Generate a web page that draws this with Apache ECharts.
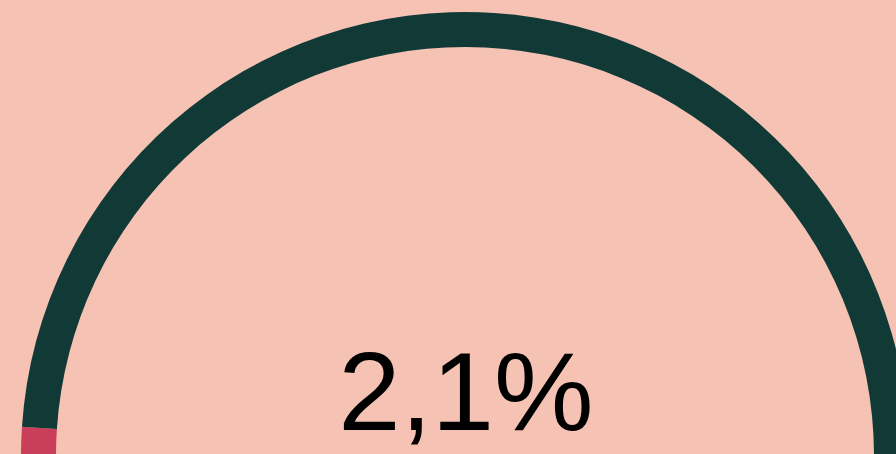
<!DOCTYPE html>
<html>
<head>
<meta charset="utf-8">
<style>
  html, body { margin: 0; padding: 0; background: #f5c2b3; }
  #chart { width: 896px; height: 454px; }
</style>
<script src="https://cdn.jsdelivr.net/npm/echarts@6/dist/echarts.min.js"></script>
</head>
<body>
<div id="chart"></div>
<script>
// share of the half circle, in percent
const labels = ['Andel', 'Resten']
const values = [2.1, 97.9]
const valueText = '2,1%'

const colors = ['#c93f59', '#113a37']

const chart = echarts.init(document.getElementById('chart'))

const data = labels.map((name, i) => ({
  name: name,
  value: values[i],
  itemStyle: { color: colors[i] }
}))
// invisible lower half
data.push({ name: '', value: values[0] + values[1], itemStyle: { color: 'transparent' } })

chart.setOption({
  backgroundColor: '#f5c2b3',
  animation: false,
  series: [
    {
      type: 'pie',
      center: [465, 456],
      radius: [409, 444],
      startAngle: 180,
      clockwise: true,
      silent: true,
      label: { show: false },
      labelLine: { show: false },
      itemStyle: { borderWidth: 0 },
      data: data
    }
  ],
  graphic: [
    {
      type: 'text',
      x: 466,
      y: 399,
      style: {
        text: valueText,
        fontFamily: 'Liberation Sans, Helvetica, Arial, sans-serif',
        fontSize: 112,
        fill: '#000',
        align: 'center',
        verticalAlign: 'middle'
      }
    }
  ]
})

window.addEventListener('resize', () => chart.resize())
</script>
</body>
</html>
